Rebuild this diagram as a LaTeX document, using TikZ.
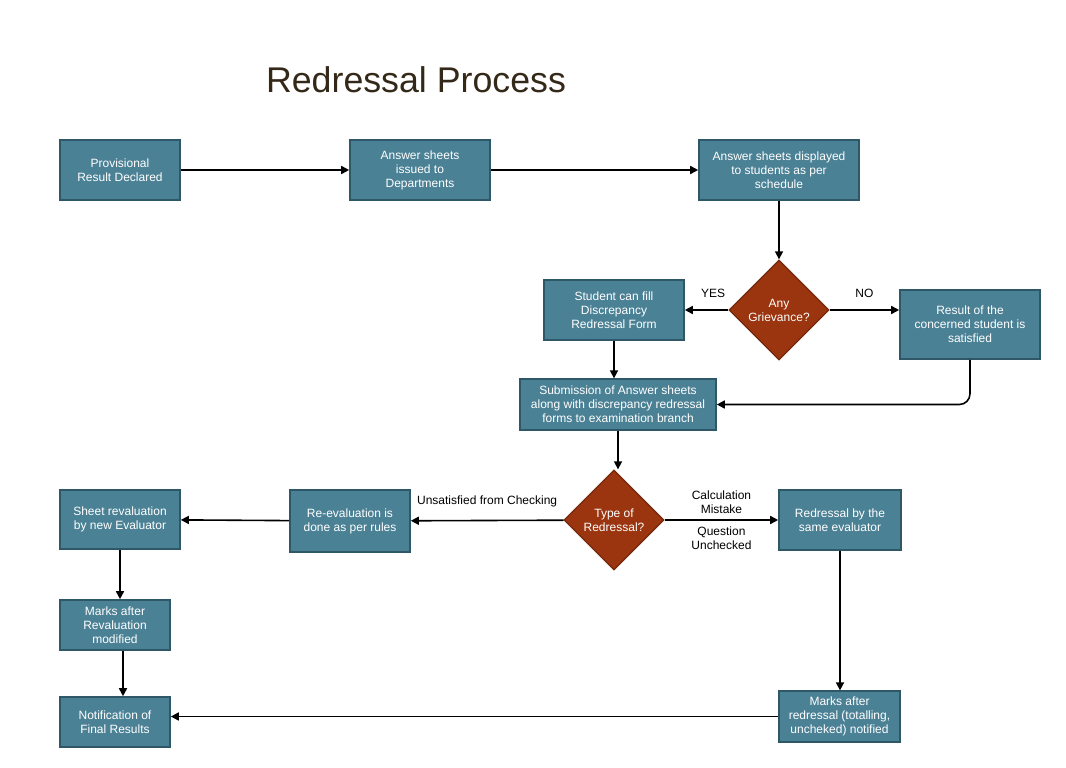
\documentclass[tikz,border=0pt]{standalone}
\usepackage{fontspec}
\setmainfont{Liberation Sans}
\usepackage{xcolor}
\usepackage{tikz}
\usetikzlibrary{shapes.geometric, arrows.meta, positioning, calc}
\definecolor{boxfill}{RGB}{75,129,149}
\definecolor{boxborder}{RGB}{46,88,104}
\definecolor{decfill}{RGB}{155,53,16}
\definecolor{decborder}{RGB}{118,40,14}
\definecolor{titlecol}{RGB}{52,40,24}
\tikzset{
    process/.style={rectangle, minimum height=45pt, align=center, draw=boxborder, line width=1.2pt, fill=boxfill, text=white, font=\fontsize{9}{10.5}\selectfont, inner sep=2pt},
    decision/.style={diamond, aspect=1, minimum size=75pt, inner sep=0pt, align=center, draw=decborder, line width=1pt, fill=decfill, text=white, font=\fontsize{9}{10.5}\selectfont},
    arrow/.style={line width=1.2pt, -{Triangle[length=6pt, width=6pt]}, color=black},
    lbl/.style={font=\fontsize{9}{10.5}\selectfont, align=center, text=black}
}

\begin{document}
\begin{tikzpicture}[x=0.75pt, y=-0.75pt]
    \useasboundingbox (0,0) rectangle (1066,767);

    % Title
    \node (title) [font=\fontsize{26.8}{32}\selectfont, text=titlecol] at (416,80) {Redressal Process};

    % Nodes
    \node (prov) [process, minimum width=90pt] at (120,170) {Provisional\\Result Declared};
    \node (issue) [process, minimum width=105pt] at (420,170) {Answer sheets\\issued to\\Departments};
    \node (disp) [process, minimum width=120pt] at (779,170) {Answer sheets displayed\\to students as per\\schedule};
    \node (any) [decision] at (779,310) {Any\\Grievance?};
    \node (student) [process, minimum width=105pt] at (614,310) {Student can fill\\Discrepancy\\Redressal Form};
    \node (result) [process, minimum width=105pt, minimum height=52pt] at (970,324.5) {Result of the\\concerned student is\\satisfied};
    \node (submit) [process, minimum width=147pt, minimum height=38pt] at (618,404.5) {Submission of Answer sheets\\along with discrepancy redressal\\forms to examination branch};
    \node (type) [decision] at (614,520) {Type of\\Redressal?};
    \node (reeval) [process, minimum width=90pt, minimum height=46.5pt] at (350,521) {Re-evaluation is\\done as per rules};
    \node (sheet) [process, minimum width=90pt, minimum height=44pt] at (120,519.5) {Sheet revaluation\\by new Evaluator};
    \node (same) [process, minimum width=91.5pt] at (840,520) {Redressal by the\\same evaluator};
    \node (marksrev) [process, minimum width=82.5pt, minimum height=37.5pt] at (115,625) {Marks after\\Revaluation\\modified};
    \node (notify) [process, minimum width=82.5pt, minimum height=37.5pt] at (115,722) {Notification of\\Final Results};
    \node (marksred) [process, minimum width=91pt, minimum height=38pt] at (839.5,716.5) {Marks after\\redressal (totalling,\\uncheked) notified};

    % Arrows
    \draw [arrow] (prov) -- (issue);
    \draw [arrow] (issue) -- (disp);
    \draw [arrow] (disp) -- (any);
    \draw [arrow] (any) -- node[lbl, above=5pt, pos=0.35] {YES} (student);
    \draw [arrow] (any.east) -- node[lbl, above=5pt, pos=0.5] {NO} (any.east -| result.west);
    \draw [arrow] (student.south) -- (student.south |- submit.north);
    \draw [arrow, rounded corners=8pt] (result.south) |- (submit.east);
    \draw [arrow] (submit.south) -- (submit.south |- type.north);
    \draw [arrow] (type) -- node[lbl, above=6pt] {Unsatisfied from Checking} (reeval);
    \draw [arrow] (type) -- node[lbl, above=1pt] {Calculation\\Mistake} node[lbl, below=1pt] {Question\\Unchecked} (same);
    \draw [arrow] (reeval) -- (sheet);
    \draw [arrow] (sheet.south) -- (sheet.south |- marksrev.north);
    \draw [arrow] ([xshift=6pt]marksrev.south) -- ([xshift=6pt]marksrev.south |- notify.north);
    \draw [arrow] (same.south) -- (same.south |- marksred.north);
    \draw [arrow] (marksred.west) -- (marksred.west -| notify.east);
\end{tikzpicture}
\end{document}
